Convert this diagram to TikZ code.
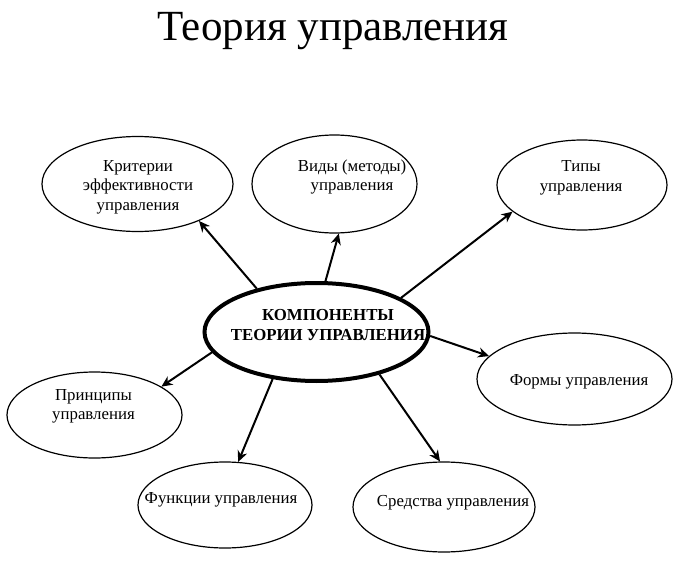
\documentclass[tikz,border=0pt]{standalone}
\usepackage{fontspec}
\setmainfont{Liberation Serif}
\usetikzlibrary{shapes.geometric,arrows.meta}
\begin{document}
\begin{tikzpicture}[x=1pt,y=-1pt,
  oval/.style={ellipse, draw, line width=1.2pt, inner sep=0pt},
  mainoval/.style={ellipse, draw, line width=4pt, inner sep=0pt},
  lbl/.style={align=center, font=\fontsize{16.8}{19.5}\selectfont, inner sep=0pt},
  mainlbl/.style={align=center, font=\bfseries\fontsize{16.8}{20}\selectfont, inner sep=0pt},
  arr/.style={-{Stealth[length=11pt,width=10pt,inset=3.5pt]}, line width=2pt}]
\useasboundingbox[fill=white] (0,0) rectangle (681,562);
\node[font=\fontsize{43}{46}\selectfont, anchor=base, inner sep=0pt] (title) at (333,40) {Теория управления};

\node[mainoval, minimum width=224pt, minimum height=98pt] (c) at (316.5,332) {};
\node[mainlbl] (cT) at (328,325) {КОМПОНЕНТЫ\\ТЕОРИИ УПРАВЛЕНИЯ};

\node[oval, minimum width=191pt, minimum height=95pt] (krit) at (137.5,184) {};
\node[lbl] (kritT) at (138,187) {Критерии\\эффективности\\управления};

\node[oval, minimum width=165pt, minimum height=98pt] (vidy) at (334.5,184) {};
\node[lbl] (vidyT) at (352,177) {Виды (методы)\\управления};

\node[oval, minimum width=170pt, minimum height=90pt] (tipy) at (582,185) {};
\node[lbl] (tipyT) at (581,178) {Типы\\управления};

\node[oval, minimum width=195pt, minimum height=92pt] (formy) at (574.5,379) {};
\node[lbl] (formyT) at (579,382) {Формы управления};

\node[oval, minimum width=175pt, minimum height=86pt] (princ) at (94.5,415) {};
\node[lbl] (princT) at (93.5,406.5) {Принципы\\управления};

\node[oval, minimum width=174pt, minimum height=86pt] (func) at (225,505) {};
\node[lbl] (funcT) at (221,500) {Функции управления};

\node[oval, minimum width=182pt, minimum height=90pt] (sred) at (444,507) {};
\node[lbl] (sredT) at (453,503) {Средства управления};

\draw[arr] (c.144.4) -- (krit.-31.8);
\draw[arr] (c.80) -- (vidy.-85.5);
\draw[arr] (c.22.2) -- (tipy.201.4);
\draw[arr] (c.-2.6) -- (formy.165.7);
\draw[arr] (c.191.4) -- (princ.23.5);
\draw[arr] (c.227.2) -- (func.73.9);
\draw[arr] (c.-34.1) -- (sred.95);
\end{tikzpicture}
\end{document}
